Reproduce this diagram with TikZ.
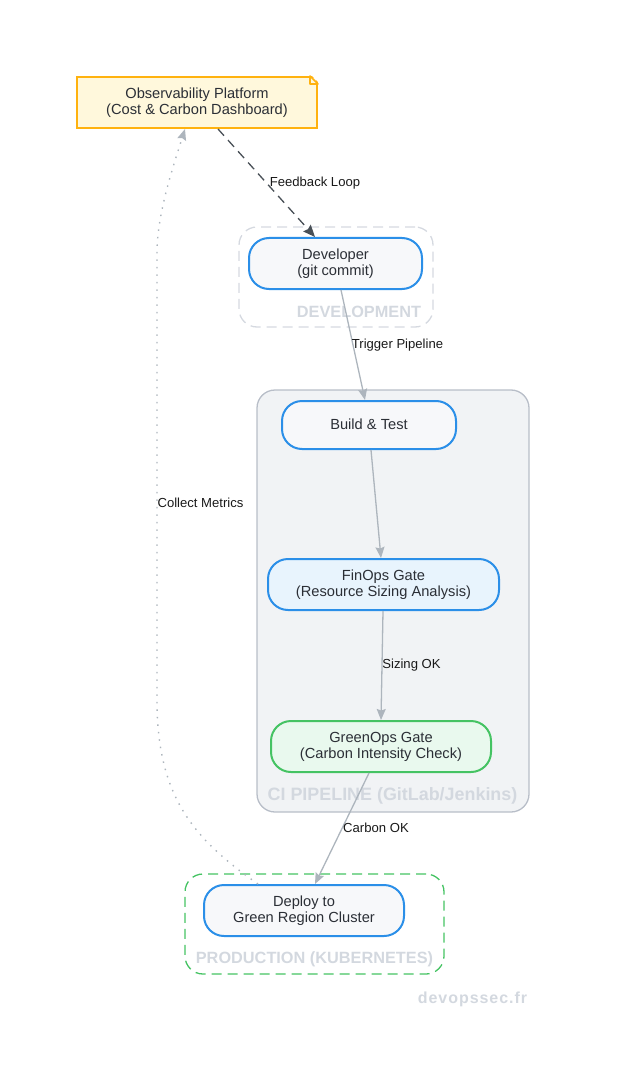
\documentclass[tikz,border=0pt]{standalone}
\usepackage{fontspec}
\setmainfont{Liberation Sans}
\newfontfamily\wmfont[LetterSpace=6]{Liberation Sans}
\usetikzlibrary{arrows.meta,calc}
\definecolor{ink}{HTML}{2B2F36}
\definecolor{blueline}{HTML}{2B8FE8}
\definecolor{nodefill}{HTML}{F7F8FA}
\definecolor{finfill}{HTML}{E8F4FD}
\definecolor{greenfill}{HTML}{E9F9EE}
\definecolor{greenline}{HTML}{45C363}
\definecolor{notefill}{HTML}{FFF8DC}
\definecolor{noteline}{HTML}{FFB20F}
\definecolor{edgegrey}{HTML}{ADB5BD}
\definecolor{darkedge}{HTML}{495057}
\definecolor{clgrey}{HTML}{D5D9E0}
\definecolor{cifill}{HTML}{F1F3F5}
\definecolor{ciline}{HTML}{B8BEC8}
\definecolor{lbl}{HTML}{D3D8DF}
\tikzset{
  x=1pt,y=-1pt,
  txt/.style={font=\fontsize{14.65}{16}\selectfont,text=ink,align=center,inner sep=0pt},
  flow/.style={txt,draw=blueline,fill=nodefill,line width=2pt,rounded corners=20pt},
  cluster/.style={rounded corners=18pt,line width=1.3pt,inner sep=0pt},
  dashbox/.style={cluster,dash pattern=on 10pt off 6pt},
  clabel/.style={font=\fontsize{16.3}{18}\selectfont\bfseries,text=lbl,inner sep=0pt},
  elabel/.style={font=\fontsize{13.1}{14}\selectfont,text=black!90,inner sep=0pt,anchor=base},
  solidedge/.style={draw=edgegrey,line width=1.3pt,-{Stealth[length=11pt,width=9pt,inset=1.5pt]}},
}
\begin{document}
\begin{tikzpicture}
\useasboundingbox (0,0) rectangle (616,1091);
% clusters
\node[dashbox,draw=clgrey,minimum width=194pt,minimum height=100pt] (devc) at (336,277) {};
\node[cluster,draw=ciline,fill=cifill,minimum width=272pt,minimum height=422pt] (cic) at (393,601) {};
\node[dashbox,draw=greenline,minimum width=259pt,minimum height=100pt] (prodc) at (314.5,924) {};
\node[clabel] (devl) at (359,312) {DEVELOPMENT};
\node[clabel,font=\fontsize{17.9}{18}\selectfont\bfseries] (cil) at (392.5,796) {CI PIPELINE (GitLab/Jenkins)};
\node[clabel] (prodl) at (314.5,959.5) {PRODUCTION (KUBERNETES)};
\node[font=\fontsize{16}{18}\selectfont\bfseries\wmfont,text=lbl,inner sep=0pt] (wm) at (472.5,999) {devopssec.fr};
% nodes
\node[txt,draw=noteline,fill=notefill,line width=2pt,minimum width=240pt,minimum height=51pt] (obs) at (197,102.5) {Observability Platform\\(Cost \& Carbon Dashboard)};
\fill[white] ($(obs.north east)+(-8,-2)$) -- ($(obs.north east)+(2,-2)$) -- ($(obs.north east)+(2,8)$) -- cycle;
\draw[noteline,line width=1.6pt,line join=round] ($(obs.north east)+(-8,0)$) -- ($(obs.north east)+(0,8)$) -- ($(obs.north east)+(-8,8)$) -- cycle;
\node[flow,minimum width=173pt,minimum height=51pt] (dev) at (335.5,263.5) {Developer\\(git commit)};
\node[flow,minimum width=174pt,minimum height=48pt] (build) at (369,425) {\raisebox{2.5pt}{Build \& Test}};
\node[flow,fill=finfill,minimum width=231pt,minimum height=51pt] (fin) at (383.5,584.5) {FinOps Gate\\(Resource Sizing Analysis)};
\node[flow,draw=greenline,fill=greenfill,minimum width=220pt,minimum height=51pt] (green) at (381,746.5) {GreenOps Gate\\(Carbon Intensity Check)};
\node[flow,minimum width=200pt,minimum height=51pt] (deploy) at (304,910.5) {Deploy to\\Green Region Cluster};
% edges
\draw[draw=darkedge,line width=1.3pt,dash pattern=on 9pt off 6pt,-{Stealth[length=12pt,width=10pt,inset=1.5pt,fill=darkedge]}] ([xshift=21pt]obs.south) -- ([xshift=-20.5pt]dev.north);
\draw[solidedge] ([xshift=5.5pt]dev.south) -- ([xshift=-4pt]build.north);
\draw[solidedge] ([xshift=2pt]build.south) -- ([xshift=-2.5pt]fin.north);
\draw[solidedge] ([xshift=-0.5pt]fin.south) -- (green.north);
\draw[solidedge] ([xshift=-12pt]green.south) -- ([xshift=11pt]deploy.north);
\draw[draw=edgegrey,line width=1.4pt,dash pattern=on 1.5pt off 6pt,-{Stealth[length=11pt,width=9pt,inset=1.5pt]}] ([xshift=-46pt]deploy.north) .. controls (192,838) and (157,795) .. (157,700) -- (157,253) .. controls (157,215) and (172,170) .. ([xshift=-12pt]obs.south);
% edge labels
\node[elabel] (l1) at (315,186.5) {Feedback Loop};
\node[elabel] (l2) at (397.5,348.5) {Trigger Pipeline};
\node[elabel] (l3) at (411.5,668.5) {Sizing OK};
\node[elabel] (l4) at (376,832.5) {Carbon OK};
\node[elabel] (l5) at (200.5,507.5) {Collect Metrics};
\end{tikzpicture}
\end{document}
